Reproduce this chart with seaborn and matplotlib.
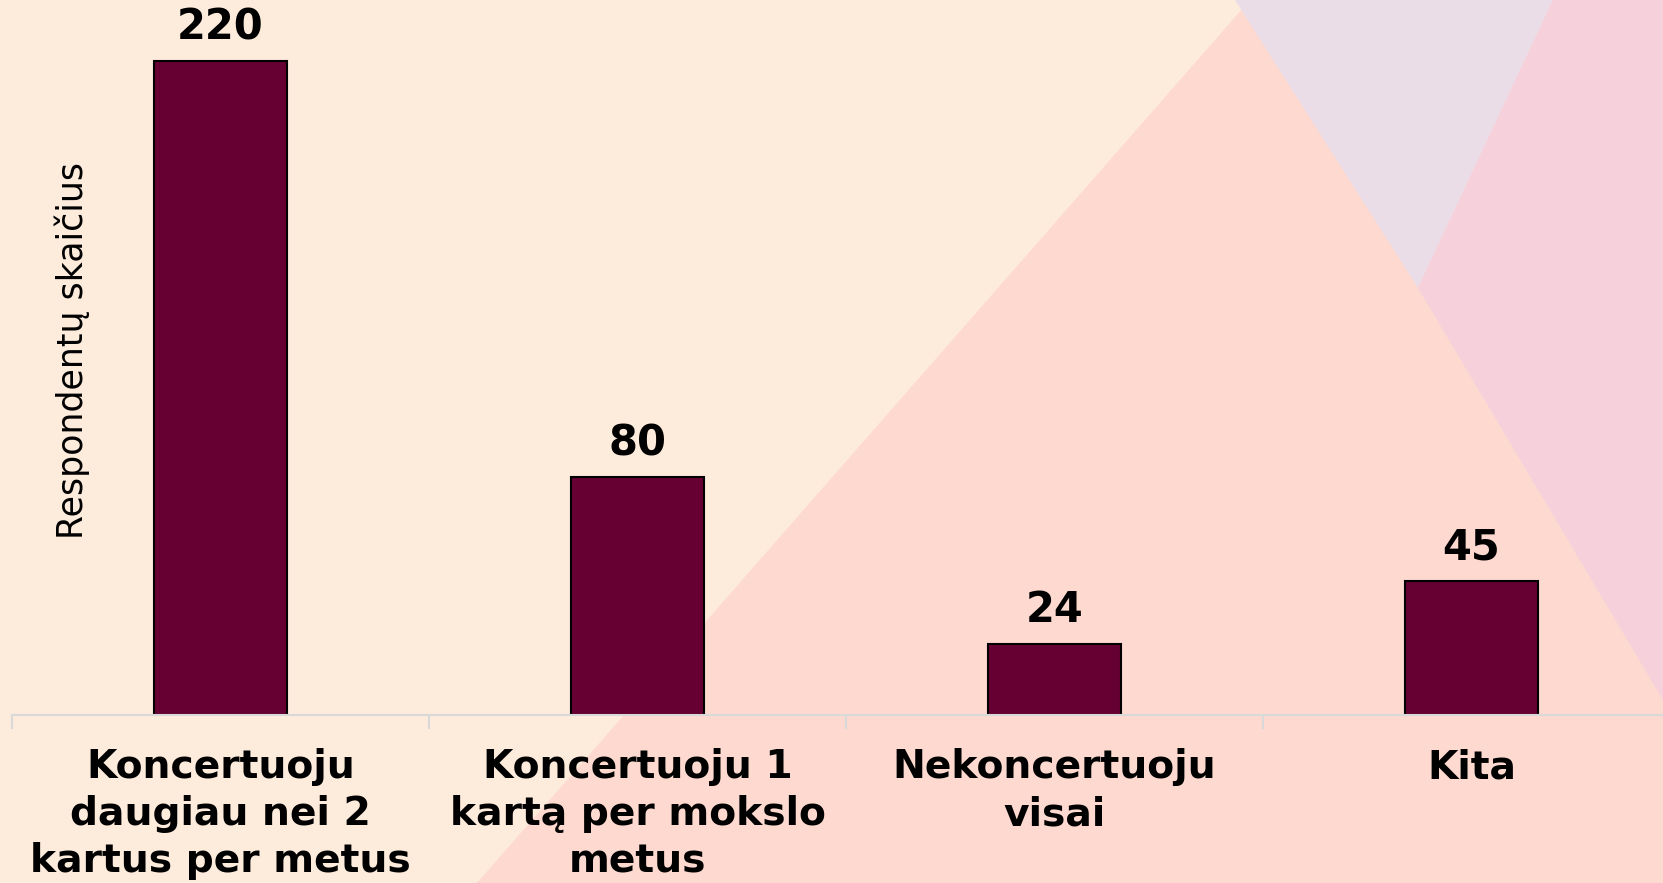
import matplotlib
matplotlib.use("Agg")
import matplotlib.pyplot as plt
from matplotlib.patches import Polygon
import seaborn as sns
import pandas as pd

categories = [
    "Koncertuoju\ndaugiau nei 2\nkartus per metus",
    "Koncertuoju 1\nkartą per mokslo\nmetus",
    "Nekoncertuoju\nvisai",
    "Kita",
]
values = [220, 80, 24, 45]
y_label = "Respondentų skaičius"

plt.rcParams["font.family"] = ["DejaVu Sans"]

W, H = 1663, 883
fig = plt.figure(figsize=(W / 100, H / 100), dpi=100)
fig.patch.set_facecolor("#fdebdc")

def px(pts):
    return [(x / W, 1 - y / H) for x, y in pts]

bg_shapes = [
    ([(1250, 0), (477, 883), (1663, 883), (1663, 0)], "#fdd9cf"),
    ([(1235, 0), (1553, 0), (1418, 288)], "#ebdde8"),
    ([(1553, 0), (1663, 0), (1663, 700), (1418, 288)], "#f6d1dc"),
]
for pts, col in bg_shapes:
    fig.patches.append(Polygon(px(pts), closed=True, transform=fig.transFigure,
                               facecolor=col, edgecolor="none", zorder=-10))

left_px, right_px, base_px, top_px = 12, 1680, 715, 0
ax = fig.add_axes([left_px / W, (H - base_px) / H, (right_px - left_px) / W,
                   (base_px - top_px) / H])
ax.set_facecolor("none")

df = pd.DataFrame({"cat": categories, "val": values})
sns.barplot(data=df, x="cat", y="val", color="#660033", edgecolor="black",
            linewidth=1.5, width=0.317, saturation=1, ax=ax)

ax.set_xlim(-0.5, len(categories) - 0.5)
ax.set_ylim(0, 240.5)

for i, v in enumerate(values):
    ax.annotate(str(v), (i, v), xytext=(0, 9), textcoords="offset points",
                ha="center", va="bottom", fontsize=30, fontweight="bold",
                color="black")

for s in ["top", "right", "left"]:
    ax.spines[s].set_visible(False)
ax.spines["bottom"].set_color("#d9d9d9")
ax.spines["bottom"].set_linewidth(1.5)

ax.set_yticks([])
ax.set_xlabel("")
ax.set_ylabel(y_label, fontsize=25, color="black")
ax.yaxis.set_label_coords(0.047, 0.51)

ax.tick_params(axis="x", which="major", length=0, pad=24)
for lbl in ax.get_xticklabels():
    lbl.set_fontsize(28.3)
    lbl.set_fontweight("bold")
    lbl.set_linespacing(1.3)
ax.set_xticks([i - 0.5 for i in range(len(categories) + 1)], minor=True)
ax.tick_params(axis="x", which="minor", length=10, width=1.5, color="#d9d9d9")

fig.savefig("out.png", dpi=100, facecolor=fig.get_facecolor())
